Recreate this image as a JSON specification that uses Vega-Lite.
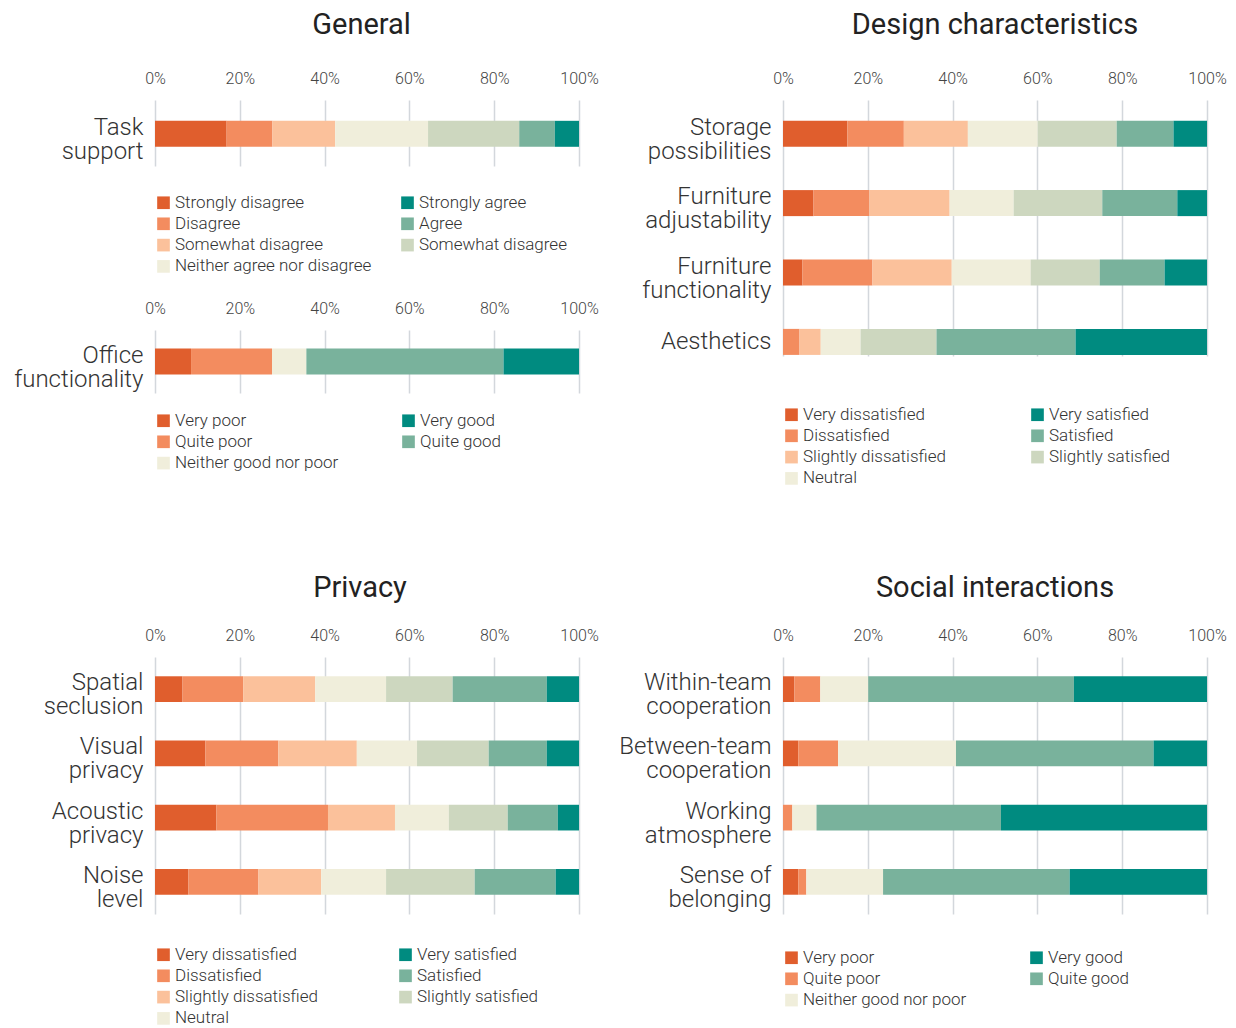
{
  "$schema": "https://vega.github.io/schema/vega-lite/v6.json",
  "padding": {"left": 11, "top": 11, "right": 5, "bottom": 5},
  "background": "white",
  "datasets": {
    "agree": [
      {"item": "Task support", "level": "Strongly disagree", "rank": 1, "pct": 16.9},
      {"item": "Task support", "level": "Disagree", "rank": 2, "pct": 10.8},
      {"item": "Task support", "level": "Somewhat disagree", "rank": 3, "pct": 14.8},
      {"item": "Task support", "level": "Neither agree nor disagree", "rank": 4, "pct": 21.9},
      {"item": "Task support", "level": "Somewhat agree", "rank": 5, "pct": 21.5},
      {"item": "Task support", "level": "Agree", "rank": 6, "pct": 8.4},
      {"item": "Task support", "level": "Strongly agree", "rank": 7, "pct": 5.7}
    ],
    "office": [
      {"item": "Office functionality", "level": "Very poor", "rank": 1, "pct": 8.5},
      {"item": "Office functionality", "level": "Quite poor", "rank": 2, "pct": 19.1},
      {"item": "Office functionality", "level": "Neither good nor poor", "rank": 3, "pct": 8.1},
      {"item": "Office functionality", "level": "Quite good", "rank": 4, "pct": 46.5},
      {"item": "Office functionality", "level": "Very good", "rank": 5, "pct": 17.8}
    ],
    "design": [
      {"item": "Storage possibilities", "level": "Very dissatisfied", "rank": 1, "pct": 15.2},
      {"item": "Storage possibilities", "level": "Dissatisfied", "rank": 2, "pct": 13.3},
      {"item": "Storage possibilities", "level": "Slightly dissatisfied", "rank": 3, "pct": 15.1},
      {"item": "Storage possibilities", "level": "Neutral", "rank": 4, "pct": 16.5},
      {"item": "Storage possibilities", "level": "Slightly satisfied", "rank": 5, "pct": 18.6},
      {"item": "Storage possibilities", "level": "Satisfied", "rank": 6, "pct": 13.4},
      {"item": "Storage possibilities", "level": "Very satisfied", "rank": 7, "pct": 7.9},
      {"item": "Furniture adjustability", "level": "Very dissatisfied", "rank": 1, "pct": 7.2},
      {"item": "Furniture adjustability", "level": "Dissatisfied", "rank": 2, "pct": 13.2},
      {"item": "Furniture adjustability", "level": "Slightly dissatisfied", "rank": 3, "pct": 18.9},
      {"item": "Furniture adjustability", "level": "Neutral", "rank": 4, "pct": 15.1},
      {"item": "Furniture adjustability", "level": "Slightly satisfied", "rank": 5, "pct": 20.9},
      {"item": "Furniture adjustability", "level": "Satisfied", "rank": 6, "pct": 17.7},
      {"item": "Furniture adjustability", "level": "Very satisfied", "rank": 7, "pct": 7.0},
      {"item": "Furniture functionality", "level": "Very dissatisfied", "rank": 1, "pct": 4.6},
      {"item": "Furniture functionality", "level": "Dissatisfied", "rank": 2, "pct": 16.5},
      {"item": "Furniture functionality", "level": "Slightly dissatisfied", "rank": 3, "pct": 18.7},
      {"item": "Furniture functionality", "level": "Neutral", "rank": 4, "pct": 18.6},
      {"item": "Furniture functionality", "level": "Slightly satisfied", "rank": 5, "pct": 16.3},
      {"item": "Furniture functionality", "level": "Satisfied", "rank": 6, "pct": 15.3},
      {"item": "Furniture functionality", "level": "Very satisfied", "rank": 7, "pct": 10.0},
      {"item": "Aesthetics", "level": "Very dissatisfied", "rank": 1, "pct": 0},
      {"item": "Aesthetics", "level": "Dissatisfied", "rank": 2, "pct": 3.9},
      {"item": "Aesthetics", "level": "Slightly dissatisfied", "rank": 3, "pct": 5.0},
      {"item": "Aesthetics", "level": "Neutral", "rank": 4, "pct": 9.4},
      {"item": "Aesthetics", "level": "Slightly satisfied", "rank": 5, "pct": 17.9},
      {"item": "Aesthetics", "level": "Satisfied", "rank": 6, "pct": 32.8},
      {"item": "Aesthetics", "level": "Very satisfied", "rank": 7, "pct": 31.0}
    ],
    "privacy": [
      {"item": "Spatial seclusion", "level": "Very dissatisfied", "rank": 1, "pct": 6.5},
      {"item": "Spatial seclusion", "level": "Dissatisfied", "rank": 2, "pct": 14.3},
      {"item": "Spatial seclusion", "level": "Slightly dissatisfied", "rank": 3, "pct": 17.0},
      {"item": "Spatial seclusion", "level": "Neutral", "rank": 4, "pct": 16.7},
      {"item": "Spatial seclusion", "level": "Slightly satisfied", "rank": 5, "pct": 15.7},
      {"item": "Spatial seclusion", "level": "Satisfied", "rank": 6, "pct": 22.2},
      {"item": "Spatial seclusion", "level": "Very satisfied", "rank": 7, "pct": 7.6},
      {"item": "Visual privacy", "level": "Very dissatisfied", "rank": 1, "pct": 11.9},
      {"item": "Visual privacy", "level": "Dissatisfied", "rank": 2, "pct": 17.2},
      {"item": "Visual privacy", "level": "Slightly dissatisfied", "rank": 3, "pct": 18.5},
      {"item": "Visual privacy", "level": "Neutral", "rank": 4, "pct": 14.2},
      {"item": "Visual privacy", "level": "Slightly satisfied", "rank": 5, "pct": 16.9},
      {"item": "Visual privacy", "level": "Satisfied", "rank": 6, "pct": 13.7},
      {"item": "Visual privacy", "level": "Very satisfied", "rank": 7, "pct": 7.6},
      {"item": "Acoustic privacy", "level": "Very dissatisfied", "rank": 1, "pct": 14.5},
      {"item": "Acoustic privacy", "level": "Dissatisfied", "rank": 2, "pct": 26.3},
      {"item": "Acoustic privacy", "level": "Slightly dissatisfied", "rank": 3, "pct": 15.8},
      {"item": "Acoustic privacy", "level": "Neutral", "rank": 4, "pct": 12.7},
      {"item": "Acoustic privacy", "level": "Slightly satisfied", "rank": 5, "pct": 13.9},
      {"item": "Acoustic privacy", "level": "Satisfied", "rank": 6, "pct": 11.8},
      {"item": "Acoustic privacy", "level": "Very satisfied", "rank": 7, "pct": 5.0},
      {"item": "Noise level", "level": "Very dissatisfied", "rank": 1, "pct": 7.9},
      {"item": "Noise level", "level": "Dissatisfied", "rank": 2, "pct": 16.5},
      {"item": "Noise level", "level": "Slightly dissatisfied", "rank": 3, "pct": 14.8},
      {"item": "Noise level", "level": "Neutral", "rank": 4, "pct": 15.3},
      {"item": "Noise level", "level": "Slightly satisfied", "rank": 5, "pct": 20.9},
      {"item": "Noise level", "level": "Satisfied", "rank": 6, "pct": 19.1},
      {"item": "Noise level", "level": "Very satisfied", "rank": 7, "pct": 5.5}
    ],
    "social": [
      {"item": "Within-team cooperation", "level": "Very poor", "rank": 1, "pct": 2.7},
      {"item": "Within-team cooperation", "level": "Quite poor", "rank": 2, "pct": 6.1},
      {"item": "Within-team cooperation", "level": "Neither good nor poor", "rank": 3, "pct": 11.3},
      {"item": "Within-team cooperation", "level": "Quite good", "rank": 4, "pct": 48.5},
      {"item": "Within-team cooperation", "level": "Very good", "rank": 5, "pct": 31.4},
      {"item": "Between-team cooperation", "level": "Very poor", "rank": 1, "pct": 3.6},
      {"item": "Between-team cooperation", "level": "Quite poor", "rank": 2, "pct": 9.4},
      {"item": "Between-team cooperation", "level": "Neither good nor poor", "rank": 3, "pct": 27.8},
      {"item": "Between-team cooperation", "level": "Quite good", "rank": 4, "pct": 46.6},
      {"item": "Between-team cooperation", "level": "Very good", "rank": 5, "pct": 12.6},
      {"item": "Working atmosphere", "level": "Very poor", "rank": 1, "pct": 0},
      {"item": "Working atmosphere", "level": "Quite poor", "rank": 2, "pct": 2.2},
      {"item": "Working atmosphere", "level": "Neither good nor poor", "rank": 3, "pct": 5.7},
      {"item": "Working atmosphere", "level": "Quite good", "rank": 4, "pct": 43.5},
      {"item": "Working atmosphere", "level": "Very good", "rank": 5, "pct": 48.6},
      {"item": "Sense of belonging", "level": "Very poor", "rank": 1, "pct": 3.6},
      {"item": "Sense of belonging", "level": "Quite poor", "rank": 2, "pct": 1.9},
      {"item": "Sense of belonging", "level": "Neither good nor poor", "rank": 3, "pct": 18.1},
      {"item": "Sense of belonging", "level": "Quite good", "rank": 4, "pct": 44.0},
      {"item": "Sense of belonging", "level": "Very good", "rank": 5, "pct": 32.4}
    ]
  },
  "concat": [
    {
      "title": {"text": "General", "offset": 28, "dx": 57},
      "spacing": 23,
      "vconcat": [
        {
          "data": {"name": "agree"},
          "width": 424,
          "height": 66,
          "mark": {"type": "bar"},
          "encoding": {
            "x": {"field": "pct", "type": "quantitative", "stack": "normalize", "axis": {"orient": "top", "format": ".0%", "values": [0, 0.2, 0.4, 0.6, 0.8, 1]}, "scale": {"domain": [0, 1]}},
            "y": {"field": "item", "type": "nominal", "sort": null, "scale": {"paddingInner": 0.6, "paddingOuter": 0.308, "align": 0.52}, "axis": {"minExtent": 144, "maxExtent": 144, "labelExpr": "split(datum.label, ' ')"}},
            "order": {"field": "rank", "type": "quantitative"},
            "color": {
              "field": "level", "type": "nominal",
              "scale": {
                "domain": ["Strongly disagree", "Disagree", "Somewhat disagree", "Neither agree nor disagree", "Strongly agree", "Agree", "Somewhat agree"],
                "range": ["#e05e2d", "#f38c5f", "#fbc19b", "#f0eedb", "#008b80", "#79b29c", "#cdd7bf"]
              },
              "legend": {"columns": 2, "columnPadding": 27, "offset": 28, "labelExpr": "datum.label == 'Somewhat agree' ? 'Somewhat disagree' : datum.label"}
            }
          }
        },
        {
          "data": {"name": "office"},
          "width": 424,
          "height": 63,
          "mark": {"type": "bar"},
          "encoding": {
            "x": {"field": "pct", "type": "quantitative", "stack": "normalize", "axis": {"orient": "top", "format": ".0%", "values": [0, 0.2, 0.4, 0.6, 0.8, 1]}, "scale": {"domain": [0, 1]}},
            "y": {"field": "item", "type": "nominal", "sort": null, "scale": {"paddingInner": 0.6, "paddingOuter": 0.285, "align": 0.5}, "axis": {"minExtent": 144, "maxExtent": 144, "labelExpr": "split(datum.label, ' ')"}},
            "order": {"field": "rank", "type": "quantitative"},
            "color": {
              "field": "level", "type": "nominal",
              "scale": {
                "domain": ["Very poor", "Quite poor", "Neither good nor poor", "Very good", "Quite good"],
                "range": ["#e05e2d", "#f38c5f", "#f0eedb", "#008b80", "#79b29c"]
              },
              "legend": {"columns": 2, "columnPadding": 61, "offset": 19}
            }
          }
        }
      ],
      "resolve": {"scale": {"color": "independent", "x": "independent", "y": "independent"}, "legend": {"color": "independent"}}
    },
    {
      "title": {"text": "Design characteristics", "offset": 28},
      "data": {"name": "design"},
      "width": 424,
      "height": 256,
      "mark": {"type": "bar"},
      "encoding": {
        "x": {"field": "pct", "type": "quantitative", "stack": "normalize", "axis": {"orient": "top", "format": ".0%", "values": [0, 0.2, 0.4, 0.6, 0.8, 1]}, "scale": {"domain": [0, 1]}},
        "y": {"field": "item", "type": "nominal", "sort": null, "scale": {"paddingInner": 0.625, "paddingOuter": 0.157, "align": 0.95}, "axis": {"minExtent": 165, "maxExtent": 165, "labelExpr": "split(datum.label, ' ')"}},
        "order": {"field": "rank", "type": "quantitative"},
        "color": {
          "field": "level", "type": "nominal",
          "scale": {
            "domain": ["Very dissatisfied", "Dissatisfied", "Slightly dissatisfied", "Neutral", "Very satisfied", "Satisfied", "Slightly satisfied"],
            "range": ["#e05e2d", "#f38c5f", "#fbc19b", "#f0eedb", "#008b80", "#79b29c", "#cdd7bf"]
          },
          "legend": {"columns": 2, "columnPadding": 83, "offset": 50}
        }
      }
    },
    {
      "title": {"text": "Privacy", "offset": 22, "dx": -7},
      "data": {"name": "privacy"},
      "width": 424,
      "height": 257,
      "mark": {"type": "bar"},
      "encoding": {
        "x": {"field": "pct", "type": "quantitative", "stack": "normalize", "axis": {"orient": "top", "format": ".0%", "values": [0, 0.2, 0.4, 0.6, 0.8, 1]}, "scale": {"domain": [0, 1]}},
        "y": {"field": "item", "type": "nominal", "sort": null, "scale": {"paddingInner": 0.6, "paddingOuter": 0.3, "align": 0.5}, "axis": {"minExtent": 144, "maxExtent": 144, "labelExpr": "split(datum.label, ' ')"}},
        "order": {"field": "rank", "type": "quantitative"},
        "color": {
          "field": "level", "type": "nominal",
          "scale": {
            "domain": ["Very dissatisfied", "Dissatisfied", "Slightly dissatisfied", "Neutral", "Very satisfied", "Satisfied", "Slightly satisfied"],
            "range": ["#e05e2d", "#f38c5f", "#fbc19b", "#f0eedb", "#008b80", "#79b29c", "#cdd7bf"]
          },
          "legend": {"columns": 2, "columnPadding": 79, "offset": 32}
        }
      }
    },
    {
      "title": {"text": "Social interactions", "offset": 22},
      "data": {"name": "social"},
      "width": 424,
      "height": 257,
      "mark": {"type": "bar"},
      "encoding": {
        "x": {"field": "pct", "type": "quantitative", "stack": "normalize", "axis": {"orient": "top", "format": ".0%", "values": [0, 0.2, 0.4, 0.6, 0.8, 1]}, "scale": {"domain": [0, 1]}},
        "y": {"field": "item", "type": "nominal", "sort": null, "scale": {"paddingInner": 0.6, "paddingOuter": 0.3, "align": 0.5}, "axis": {"minExtent": 165, "maxExtent": 165, "labelExpr": "datum.label == 'Sense of belonging' ? ['Sense of', 'belonging'] : split(datum.label, ' ')"}},
        "order": {"field": "rank", "type": "quantitative"},
        "color": {
          "field": "level", "type": "nominal",
          "scale": {
            "domain": ["Very poor", "Quite poor", "Neither good nor poor", "Very good", "Quite good"],
            "range": ["#e05e2d", "#f38c5f", "#f0eedb", "#008b80", "#79b29c"]
          },
          "legend": {"columns": 2, "columnPadding": 61, "offset": 35}
        }
      }
    }
  ],
  "columns": 2,
  "spacing": {"row": 87, "column": 19},
  "resolve": {"scale": {"color": "independent", "x": "independent", "y": "independent"}, "legend": {"color": "independent"}},
  "config": {
    "font": "Roboto",
    "view": {"stroke": null},
    "bar": {"stroke": null},
    "title": {"fontSize": 29, "fontWeight": 400, "color": "#222222", "font": "Roboto", "anchor": "middle"},
    "axis": {"domain": false, "ticks": false, "title": null, "labelFont": "Roboto", "labelFontWeight": 300, "labelColor": "#333333"},
    "axisX": {"grid": true, "gridColor": "#d3d7dc", "gridWidth": 1.5, "labelFontSize": 16, "labelPadding": 14, "labelFlush": false, "labelColor": "#444444", "minExtent": 32, "maxExtent": 32},
    "axisY": {"grid": false, "labelFontSize": 24, "labelLineHeight": 24, "labelPadding": 12, "labelLimit": 0, "labelOffset": {"condition": {"test": "indexof(datum.value, ' ') >= 0", "value": -6}, "value": 0}},
    "legend": {"title": null, "orient": "bottom", "direction": "vertical", "symbolType": "square", "symbolSize": 160, "symbolStrokeWidth": 0, "symbolOpacity": 1, "labelFont": "Roboto", "labelFontWeight": 300, "labelFontSize": 17, "labelColor": "#333333", "labelOffset": 3, "rowPadding": 3.3, "labelLimit": 0, "padding": 0}
  }
}
